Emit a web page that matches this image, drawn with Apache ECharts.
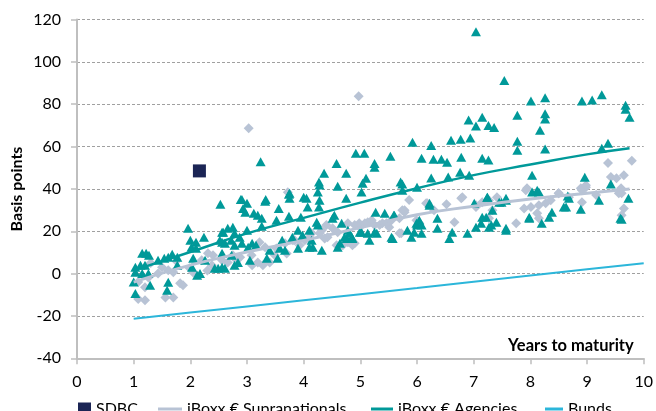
<!DOCTYPE html>
<html><head><meta charset="utf-8">
<script src="https://cdn.jsdelivr.net/npm/echarts@6/dist/echarts.min.js"></script>
<style>html,body{margin:0;padding:0;background:#fff}#c{width:656px;height:411px}</style>
</head><body><div id="c"></div>
<script>
const xTicks = [0,1,2,3,4,5,6,7,8,9,10];
const yTicks = [-40,-20,0,20,40,60,80,100,120];
const sdbcPts = [[2.16,48.5]];
const agenciesPts = [
[7.04,114.2],[7.54,91.2],[8.01,81.5],[8.26,83],[8.91,81.5],[9.09,82],[9.26,84.5],[9.68,79.5],[9.68,77.6],[9.75,73.8],
[7.77,74.8],[8.26,75.5],[8.26,73],[8.17,67.7],[6.91,72.5],[7.15,73.8],[7.04,69.7],[7.26,70],[7.36,69],
[5.92,62],[6.25,60.5],[6.6,63],[6.77,63.5],[6.94,64],[7.77,62.5],[7.77,58.3],[8.26,58.8],[9.26,59.2],[9.37,61.6],
[4.92,56.8],[5.07,56.8],[5.53,55.4],[5.25,52],[5.25,50.2],[4.58,52],[3.24,52.8],
[6.08,54.5],[6.29,54],[6.43,54],[6.53,52.6],[6.78,55],[7.15,54.5],[7.26,53.6],
[4.36,47.4],[4.75,47.4],[5.1,45],[5.04,42.7],[5.02,38.5],[5.71,43.2],[5.74,42.3],
[4.27,43.2],[4.28,41.8],[4.25,38.5],[4.6,41.3],[4.75,35.6],
[6.0,40.8],[6.25,45.1],[6.55,45.6],[6.76,47.9],[6.92,46.5],[5.74,39.4],
[8.03,46.5],[8.03,38.5],[8.12,39.4],[8.96,45.5],[9.42,42.3],[8.66,36.6],[8.63,31.4],[8.89,30.4],[9.21,34.6],[9.73,35.6],[9.61,25.7],
[7.24,36.1],[7.57,35.6],[7.45,33.7],[8.59,31.4],[8.38,29],[8.2,23.8],[7.98,26.1],[7.22,26.6],[7.4,24.3],[7.27,21.9],[7.57,21.4],
[4.28,34.6],[4.27,31.4],[4.05,35.6],[4.07,31.4],[4.54,27.6],[4.51,26.1],[4.23,24.3],[4.25,22.9],
[5.27,29],[5.43,28.5],[5.59,27.6],[5.57,16.6],[5.29,19],[5.13,19],[5.02,19.5],
[4.67,23.8],[4.85,17.2],[4.76,16.6],[4.64,14.3],[4.78,20.5],[4.6,12.4],[4.14,15.7],[4.16,12.4],[4.32,11],
[3.74,37.5],[4.0,36],[2.91,35],[3.33,35],[2.53,32.8],
[2.89,35],[3.0,33.2],[2.97,29],[2.93,30.8],[3.32,34.2],[3.75,38],[3.75,35.6],
[3.56,30.8],[3.52,25.2],[3.74,27.1],[3.95,26.6],[3.19,27.6],[3.26,26.1],[3.12,28.5],[3.26,22.4],
[2.66,21.4],[2.75,21.9],[2.78,19],[2.72,15.7],[3.0,20.5],[2.87,17.2],[2.61,14.3],[2.56,19.5],[2.52,15.7],
[3.9,20.5],[4.1,20.5],[3.62,15.7],[3.8,17.2],[3.98,18.1],
[3.09,14.3],[3.16,13.4],[3.02,12.4],[2.91,14.3],[2.78,13.4],
[3.58,12],[3.67,11],[3.9,12],[4.1,12.4],
[2.56,9.6],[2.73,8.7],[2.56,3],[2.78,4],[3.05,6.3],[3.35,7.2],[3.54,7.2],[3.4,11],[2.84,5.3],[2.49,2.5],[2.61,2.5],
[1.96,21.4],[2.24,17.2],[2.0,15.7],[2.1,14.8],[2.02,12.4],[2.1,12],[2.58,19.5],[2.56,14.8],
[1.15,9.6],[1.22,9.6],[1.27,8.7],[1.43,6.3],[1.54,7.2],[1.61,7.7],[1.68,9.1],[1.77,7.7],
[1.03,3],[1.12,4],[1.2,4],[1.03,0.6],[1.15,0.1],[1.26,0.1],[1.0,-4],[1.29,-5.5],[1.03,-9.4],[1.61,-4.1],[1.59,-7.9],
[1.77,4],[2.03,3],[2.05,7.2],[2.17,0],[2.12,-0.8],[2.26,6.3],[2.43,2.5],
[4.72,17.2],[4.86,16.6],[4.81,19],[4.99,19.5],[5.16,15.7],[5.25,19.5],[5.55,17.2],[5.9,17.2],[5.95,19.5],[6.08,19],[6.0,22.9],
[6.36,21.4],[6.57,16.6],[6.62,19.5],[6.89,19],[7.04,21.9],[7.13,23.8],[7.57,20.5],
[5.6,27.6],[5.83,20.5],[5.99,23.8],[6.08,22.9],[6.22,32.3],[6.36,26.1],[7.01,33.2],[7.15,26.6],[7.24,36.1],[7.31,22.9],[7.33,29.9],
[6.04,25.2],[6.22,33.2],[7.49,33.7],[7.57,34.6],[7.98,26.6],[8.15,38.5],[8.33,26.6],[8.68,35.6],[9.59,26.1]
];
const supraPts = [
[3.03,68.7],[4.97,83.7],
[9.37,52.2],[9.79,53.3],[9.42,45.6],[9.52,45],[9.65,46.5],[8.89,40.3],[8.98,40.8],[9.6,40.3],[9.61,37.9],[9.56,37.9],[8.91,33.7],[9.65,30.8],[9.61,27.6],[9.16,37.1],
[7.94,40.3],[7.41,36.1],[7.33,29.9],[7.89,30.8],[8.01,31.4],[8.12,28.5],[8.27,33.2],[8.36,34.6],[8.5,37.9],[8.68,36.1],[7.75,23.8],[8.15,26.1],[7.27,26.1],[8.15,32.3],
[7.92,39.4],[8.5,37.9],[8.91,39.4],[8.98,41.7],
[5.78,29.9],[5.86,34.7],[6.16,33.2],[6.52,32.8],[6.78,35.6],[7.04,32.3],[7.15,33.7],[7.27,34.6],[5.72,19],[6.66,24.3],[6.8,36.1],[7.04,31.4],[6.3,29.9],[6.18,33.2],[5.99,25.2],[6.04,23.8],
[4.37,16.6],[4.75,15.7],[4.9,14.3],[4.98,23.8],[5.13,24.3],[5.25,22.9],[5.39,23.8],[5.51,21.9],[5.69,19],[5.78,29],
[4.32,20.5],[4.4,22.9],[4.51,21.4],[4.6,19.5],[4.78,23.8],[4.9,22.9],[4.99,21.9],[5.08,23.8],[5.2,25.2],[5.34,22.9],[5.46,23.8],[5.55,25.2],[5.69,26.1],[5.74,29.9],[4.78,14.8],[4.69,13.4],[4.58,13.4],[4.86,13.4],
[3.67,14.3],[3.49,8.7],[3.32,12.4],[3.19,5.3],[3.09,4],[2.78,7.2],[2.66,5.3],[3.84,15.7],[4.02,15.7],[4.14,19],[3.72,38.4],
[2.4,8.7],[2.75,8.7],[2.88,7.7],[3.08,8.7],[3.22,14.8],[3.28,3.9],[3.4,5.3],[3.52,11.9],[3.7,9.5],[3.81,15.7],[3.93,13.4],[4.1,17.2],[4.28,19],[4.42,17.2],
[1.08,-4],[1.2,-6.5],[1.08,-12],[1.2,-12.6],[1.26,-1.8],[1.43,0],[1.61,1.6],[1.82,-4.6],[1.87,-5.5],[1.56,-11.3],[1.7,-11.3],[1.7,0.6],
[2.31,9.6],[2.2,6.3],[1.99,2.5],[2.38,4],[2.56,6.3],[2.05,0.5],[2.3,1.5],[1.3,5],[1.5,3],[1.75,6]
];
const supraTrend = [[1,-4],[2,4],[3,10.2],[4,15.7],[5,21.7],[6,27.8],[7,31.8],[8,35.2],[9,38],[9.75,40]];
const agenciesTrend = [[1,1.5],[2,10.2],[3,19],[4,26.3],[5,33.5],[6,40.3],[7,46.5],[8,51.5],[9,56.3],[9.75,59.2]];
const bundsLine = [[1,-21.3],[2,-18.4],[3,-15.5],[4,-12.6],[5,-9.7],[6,-6.8],[7,-3.8],[8,-0.9],[9,2.0],[10,4.9]];

const FONT = 'Lato';
const TEAL = '#009999', GREY = '#b8c3d5', NAVY = '#1b2555', BLUE = '#2cb6da';
const chart = echarts.init(document.getElementById('c'), null, {renderer:'canvas'});
const legBase = {top: 396, itemGap: 0, textStyle:{fontFamily:FONT, fontSize:16, color:'#000'}, selectedMode:false};
chart.setOption({
  animation:false,
  grid:{left:77, right:11, top:19.5, bottom:52.7},
  xAxis:{type:'value', min:xTicks[0], max:xTicks[xTicks.length-1], interval:1,
    axisLine:{onZero:false, lineStyle:{color:'#bfbfbf', width:2}},
    axisTick:{show:true, length:6, lineStyle:{color:'#bfbfbf', width:1.5}},
    axisLabel:{fontFamily:FONT, fontSize:16, color:'#000', margin:16},
    splitLine:{show:false}},
  yAxis:{type:'value', min:yTicks[0], max:yTicks[yTicks.length-1], interval:20,
    axisLine:{show:true, onZero:false, lineStyle:{color:'#bfbfbf', width:2}},
    axisTick:{show:true, length:6, lineStyle:{color:'#bfbfbf', width:1.5}},
    axisLabel:{fontFamily:FONT, fontSize:16, color:'#000', margin:16},
    splitLine:{show:true, lineStyle:{color:'#a0a0a0', type:[3,2], width:1}}},
  legend:[
    Object.assign({}, legBase, {left:73, itemWidth:13, itemHeight:13, data:[{name:'SDBC', icon:'rect'}]}),
    Object.assign({}, legBase, {left:153, itemWidth:24, itemHeight:3, data:[{name:'iBoxx € Supranationals', icon:'rect'}]}),
    Object.assign({}, legBase, {left:366, itemWidth:22, itemHeight:3, data:[{name:'iBoxx € Agencies', icon:'rect'}]}),
    Object.assign({}, legBase, {left:540, itemWidth:18, itemHeight:3, data:[{name:'Bunds', icon:'rect'}]})
  ],
  graphic:[
    {type:'text', left:508, top:337, style:{text:'Years to maturity', font:'bold 16.5px Lato', fill:'#000'}},
    {type:'text', x:17, y:189, rotation:Math.PI/2, style:{text:'Basis points', font:'bold 16px Lato', fill:'#000', align:'center', verticalAlign:'middle'}}
  ],
  series:[
    {name:'iBoxx € Supranationals pts', type:'scatter', data:supraPts, symbol:'diamond', symbolSize:[10,10], itemStyle:{color:GREY, opacity:1}, z:2},
    {name:'iBoxx € Agencies pts', type:'scatter', data:agenciesPts, symbol:'triangle', symbolSize:[10,9], itemStyle:{color:TEAL, opacity:1}, z:3},
    {name:'SDBC', type:'scatter', data:sdbcPts, symbol:'rect', symbolSize:13, itemStyle:{color:NAVY, opacity:1}, z:4},
    {name:'iBoxx € Supranationals', type:'line', data:supraTrend, smooth:true, showSymbol:false, lineStyle:{color:GREY, width:3}, itemStyle:{color:GREY}, z:5},
    {name:'iBoxx € Agencies', type:'line', data:agenciesTrend, smooth:true, showSymbol:false, lineStyle:{color:TEAL, width:2.5}, itemStyle:{color:TEAL}, z:6},
    {name:'Bunds', type:'line', data:bundsLine, showSymbol:false, lineStyle:{color:BLUE, width:2}, itemStyle:{color:BLUE}, z:6}
  ]
});
</script></body></html>
